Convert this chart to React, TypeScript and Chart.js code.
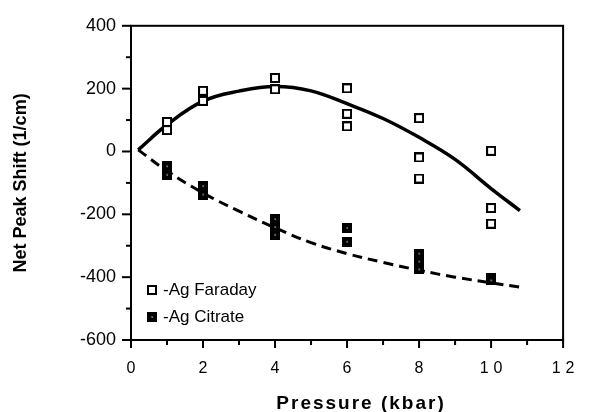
import { useEffect, useRef } from 'react';
import { Chart, registerables } from 'chart.js';

Chart.register(...registerables);

// Measured data (pressure in kbar, net peak shift in 1/cm)
const pressureFaraday = [1, 1, 2, 2, 4, 4, 6, 6, 6, 8, 8, 8, 10, 10, 10];
const shiftFaraday = [94, 68, 193, 161, 234, 198, 201, 120, 80, 106, -19, -86, 2, -180, -230];
const pressureCitrate = [1, 1, 2, 2, 4, 4, 4, 6, 6, 8, 8, 8, 10, 10];
const shiftCitrate = [-47, -74, -110, -137, -215, -240, -265, -243, -287, -325, -350, -375, -402, -410];

// Fitted curves
const fitPressure = [0.2, 1, 2, 3, 4, 5, 6, 7, 8, 9, 10, 10.8];
const fitFaraday = [5, 85, 160, 192, 207, 193, 152, 105, 45, -25, -118, -188];
const fitCitrate = [5, -62, -132, -190, -243, -290, -325, -353, -378, -400, -418, -432];

const seriesLabels = ['-Ag Faraday', '-Ag Citrate'];
const xTitle = 'Pressure (kbar)';
const yTitle = 'Net Peak Shift (1/cm)';
const xMin = 0, xMax = 12, xStep = 1, xLabelStep = 2;
const yMin = -600, yMax = 400, yStep = 100, yLabelStep = 200;

const FONT = '"Liberation Sans", Arial, Helvetica, sans-serif';

function makeMarker(filled: boolean): HTMLCanvasElement {
  const c = document.createElement('canvas');
  c.width = 10;
  c.height = 10;
  const g = c.getContext('2d')!;
  if (filled) {
    g.fillStyle = '#000';
    g.fillRect(0, 0, 10, 10);
    g.fillStyle = '#fff';
    g.fillRect(4.5, 4.5, 1.2, 1.2);
  } else {
    g.fillStyle = '#fff';
    g.fillRect(0, 0, 10, 10);
    g.strokeStyle = '#000';
    g.lineWidth = 2;
    g.strokeRect(1, 1, 8, 8);
  }
  return c;
}

export default function App() {
  const ref = useRef<HTMLCanvasElement | null>(null);

  useEffect(() => {
    if (!ref.current) return;
    const openMarker = makeMarker(false);
    const fillMarker = makeMarker(true);

    const framePlugin = {
      id: 'frame',
      beforeDraw(chart: any) {
        const s = chart.scales.x;
        if (s && !s._lsPatched) {
          const origLabels = s.drawLabels.bind(s);
          s.drawLabels = (area: any) => {
            const c = chart.ctx as any;
            c.save();
            c.letterSpacing = '5px';
            c.translate(2.5, 0);
            origLabels(area);
            c.restore();
          };
          const origTitle = s.drawTitle.bind(s);
          s.drawTitle = () => {
            const c = chart.ctx as any;
            c.save();
            c.letterSpacing = '2px';
            c.translate(14, 0);
            origTitle();
            c.restore();
          };
          s._lsPatched = true;
        }
      },
      beforeDatasetsDraw(chart: any) {
        const { ctx, chartArea: a, scales } = chart;
        ctx.save();
        ctx.strokeStyle = '#000';
        ctx.lineWidth = 2;
        ctx.strokeRect(a.left, a.top, a.right - a.left, a.bottom - a.top);
        for (let v = yMin; v <= yMax; v += yStep) {
          const y = scales.y.getPixelForValue(v);
          const major = v % yLabelStep === 0;
          ctx.beginPath();
          ctx.moveTo(a.left - (major ? 9 : 5), y);
          ctx.lineTo(a.left, y);
          ctx.stroke();
        }
        for (let v = xMin; v <= xMax; v += xStep) {
          const x = scales.x.getPixelForValue(v);
          const major = v % xLabelStep === 0;
          ctx.beginPath();
          ctx.moveTo(x, a.bottom);
          ctx.lineTo(x, a.bottom + (major ? 8 : 5));
          ctx.stroke();
        }
        ctx.restore();
      },
      afterDraw(chart: any) {
        const { ctx, chartArea: a } = chart;
        ctx.save();
        ctx.font = `17px ${FONT}`;
        ctx.fillStyle = '#000';
        ctx.textBaseline = 'middle';
        ctx.textAlign = 'left';
        const rows = [
          { img: openMarker, label: seriesLabels[0], y: a.bottom - 50 },
          { img: fillMarker, label: seriesLabels[1], y: a.bottom - 23 },
        ];
        rows.forEach((r) => {
          ctx.drawImage(r.img, a.left + 16, r.y - 5);
          ctx.fillText(r.label, a.left + 32, r.y);
        });
        ctx.restore();
      },
    };

    const chart = new Chart(ref.current, {
      type: 'scatter',
      data: {
        datasets: [
          {
            label: seriesLabels[0],
            data: pressureFaraday.map((x, i) => ({ x, y: shiftFaraday[i] })),
            pointStyle: openMarker as any,
            pointRadius: 5,
            showLine: false,
          },
          {
            label: seriesLabels[1],
            data: pressureCitrate.map((x, i) => ({ x, y: shiftCitrate[i] })),
            pointStyle: fillMarker as any,
            pointRadius: 5,
            showLine: false,
          },
          {
            label: 'Faraday fit',
            data: fitPressure.map((x, i) => ({ x, y: fitFaraday[i] })),
            showLine: true,
            borderColor: '#000',
            borderWidth: 3.5,
            pointRadius: 0,
            tension: 0.4,
          },
          {
            label: 'Citrate fit',
            data: fitPressure.map((x, i) => ({ x, y: fitCitrate[i] })),
            showLine: true,
            borderColor: '#000',
            borderWidth: 3,
            borderDash: [10, 6],
            pointRadius: 0,
            tension: 0.4,
          },
        ],
      },
      options: {
        animation: false,
        responsive: false,
        devicePixelRatio: 1,
        layout: { padding: { left: 0, right: 15, top: 18, bottom: 0 } },
        plugins: { legend: { display: false }, tooltip: { enabled: false } },
        scales: {
          x: {
            type: 'linear',
            min: xMin,
            max: xMax,
            grid: { display: false, drawTicks: false },
            border: { display: false },
            ticks: {
              stepSize: xStep,
              padding: 19,
              color: '#000',
              font: { size: 16, family: FONT },
              maxRotation: 0,
              autoSkip: false,
              callback: (v: any) => (Number(v) % xLabelStep === 0 ? String(v) : ''),
            },
            title: {
              display: true,
              text: xTitle,
              color: '#000',
              font: { size: 19, weight: 'bold', family: FONT, lineHeight: 0.8 },
              padding: { top: 0, bottom: 1 },
            },
            afterFit: (s: any) => {
              s.height = 72;
            },
          },
          y: {
            type: 'linear',
            min: yMin,
            max: yMax,
            grid: { display: false, drawTicks: false },
            border: { display: false },
            ticks: {
              stepSize: yStep,
              padding: 15,
              color: '#000',
              font: { size: 18, family: FONT },
              autoSkip: false,
              callback: (v: any) => (Number(v) % yLabelStep === 0 ? String(v) : ''),
            },
            title: {
              display: true,
              text: yTitle,
              color: '#000',
              font: { size: 18, weight: 'bold', family: FONT },
              padding: { top: 10, bottom: 0 },
            },
            afterFit: (s: any) => {
              s.width = 131;
            },
          },
        },
      },
      plugins: [framePlugin],
    });
    return () => chart.destroy();
  }, []);

  return (
    <canvas
      ref={ref}
      width={591}
      height={412}
      style={{ position: 'fixed', left: 0, top: 0, width: 591, height: 412, display: 'block', background: '#fff' }}
    />
  );
}
